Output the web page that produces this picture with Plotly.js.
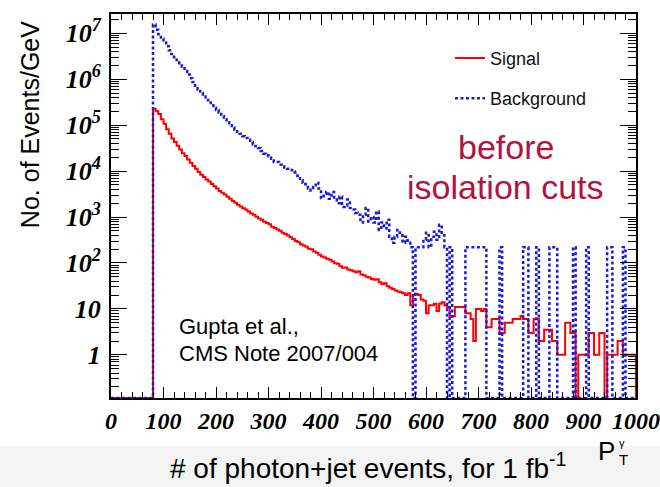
<!DOCTYPE html>
<html>
<head>
<meta charset="utf-8">
<script src="https://cdn.plot.ly/plotly-3.0.1.min.js"></script>
<style>
  html, body { margin: 0; padding: 0; background: #ffffff; }
  #chart { width: 660px; height: 487px; }
</style>
</head>
<body>
<div id="chart"></div>
<script>
// ---- Data: histogram contents (Events/GeV), 5 GeV bins starting at 80 GeV ----
const binStart = 80;   // GeV, low edge of first bin
const binWidth = 5;    // GeV

const signal = [
  229000, 200000, 174000, 135000, 107000, 81000, 65000, 51000, 43000, 35500,
  29500, 24500, 21400, 17800, 15100, 12900, 11200, 9550, 8300, 7400,
  6600, 5900, 5250, 4700, 4170, 3700, 3390, 3090, 2750, 2510,
  2240, 2040, 1860, 1700, 1550, 1450, 1320, 1200, 1120, 1020,
  930, 870, 794, 741, 692, 617, 575, 537, 501, 457,
  427, 398, 363, 331, 302, 282, 257, 240, 224, 204,
  200, 178, 166, 151, 138, 132, 123, 118, 107, 98,
  96, 85, 79, 80, 72, 69, 66, 63, 66, 56,
  54, 50, 48, 45, 43, 44, 38, 35, 36, 31,
  29, 27, 25, 24, 23, 22,
  20, 22, 12, 20, 21, 20, 16, 15, 8, 12,
  12, 13, 9, 13, 14, 12, 11, 7, 7, 11,
  11, 11, 11, 8, 8, 6, 2, 10, 10, 9,
  10, 4, 4, 6, 6, 6, 3, 3, 5, 5,
  5, 6, 6, 6, 7, 6, 6, 3, 3, 6,
  6, 2, 2, 3.5, 3.5, 3.5, 2, 2, 1, 1,
  1, 5, 5, 3, 3, 0, 1, 1, 1, 1,
  3, 3, 1, 1, 3, 3, 0, 1, 1, 1,
  1, 2, 2, 1, 1, 1, 1, 1
];

const background = [
  1.55e7, 1.2e7, 9.5e6, 7.6e6, 6.3e6, 5.25e6, 4.27e6, 3.55e6, 3.02e6, 2.63e6,
  2.24e6, 1.86e6, 1.51e6, 1.26e6, 1.05e6, 8.7e5, 7.2e5, 6.0e5, 5.0e5, 4.2e5,
  3.55e5, 3.1e5, 2.7e5, 2.4e5, 2.14e5, 1.86e5, 1.58e5, 1.35e5, 1.15e5, 1.0e5,
  8.9e4, 7.9e4, 7.2e4, 6.5e4, 5.75e4, 5.25e4, 4.8e4, 4.3e4, 3.8e4, 3.5e4,
  3.2e4, 2.75e4, 2.4e4, 2.2e4, 2.1e4, 1.86e4, 1.58e4, 1.58e4, 1.38e4, 1.26e4,
  1.2e4, 1.12e4, 1.05e4, 9800, 9300, 7900, 6300, 5600, 5200, 4200,
  3800, 4500, 5600, 4200, 2600, 3200, 3500, 2500, 3500, 2400,
  2000, 2800, 1660, 1780, 2400, 1580, 1450, 1230, 1120, 760,
  1120, 1580, 800, 1000, 760, 1320, 525, 760, 560, 870,
  370, 275, 370, 525, 457, 275, 370, 275, 220, 0,
  220, 220, 220, 320, 457, 220, 370, 480, 320, 680,
  400, 220, 0, 220, 0, 0, 0, 0, 0, 220,
  220, 220, 220, 220, 220, 220, 220, 0, 0, 0,
  0, 0, 220, 0, 0, 0, 0, 0, 0, 0,
  0, 220, 220, 0, 0, 0, 220, 0, 0, 0,
  0, 220, 220, 220, 0, 0, 0, 0, 0, 0,
  220, 0, 0, 0, 0, 220, 0, 0, 0, 0,
  0, 0, 0, 220, 220, 0, 0, 0, 0, 220,
  0, 0, 0, 0
];

const yTickVals = [1, 10, 100, 1e3, 1e4, 1e5, 1e6, 1e7];
const yTickText = ['1', '10', '10<sup>2</sup>', '10<sup>3</sup>', '10<sup>4</sup>',
                   '10<sup>5</sup>', '10<sup>6</sup>', '10<sup>7</sup>'];
const xTickVals = [0, 100, 200, 300, 400, 500, 600, 700, 800, 900, 1000];

// ---- Build step-histogram outlines ----
const Y_LOG_RANGE = [-0.94, 7.42];
const FLOOR = Math.pow(10, Y_LOG_RANGE[0]); // empty bins are drawn at the frame bottom
const X_MIN = 0, X_MAX = 1000;

function histOutline(vals) {
  const x = [X_MIN], y = [FLOOR];
  vals.forEach((v, i) => {
    x.push(binStart + i * binWidth);
    y.push(v > 0 ? v : FLOOR);
  });
  x.push(X_MAX); y.push(FLOOR);
  return { x, y };
}

const sig = histOutline(signal);
const bkg = histOutline(background);

const traces = [
  {
    x: sig.x, y: sig.y, type: 'scatter', mode: 'lines', name: 'Signal',
    legendgroup: 'sig',
    line: { shape: 'hv', color: '#ff0000', width: 2 }
  },
  {
    x: bkg.x, y: bkg.y, type: 'scatter', mode: 'lines', name: 'Background',
    legendgroup: 'bkg',
    line: { shape: 'hv', color: '#1a1ad6', width: 2.5, dash: '3px,2.5px' }
  }
];

const serifBI = 'Liberation Serif, Times New Roman, serif';
const xTickFont = { family: serifBI, size: 24, color: '#000', weight: 'bold', style: 'italic' };
const yTickFont = { family: serifBI, size: 26, color: '#000', weight: 'bold', style: 'italic' };
const sans = 'Liberation Sans, Arial, sans-serif';

function note(text, x, y, size, color, extra) {
  return Object.assign({
    text: text, xref: 'paper', yref: 'paper', x: x, y: y,
    xanchor: 'center', yanchor: 'middle', showarrow: false,
    font: { family: sans, size: size, color: color }
  }, extra || {});
}

const layout = {
  width: 660, height: 487,
  margin: { l: 111, r: 24, t: 14, b: 89 },
  paper_bgcolor: '#ffffff', plot_bgcolor: '#ffffff',
  showlegend: true,
  legend: {
    x: 0.6457, y: 0.933, xanchor: 'left', yanchor: 'top',
    bgcolor: 'rgba(0,0,0,0)', font: { family: sans, size: 18, color: '#111' },
    tracegroupgap: 14
  },
  xaxis: {
    range: [X_MIN, X_MAX], tickvals: xTickVals, ticks: 'inside', ticklen: 11,
    tickwidth: 1, tickcolor: '#000',
    minor: { dtick: 20, ticks: 'inside', ticklen: 6, tickcolor: '#000', showgrid: false },
    showline: true, linewidth: 2, linecolor: '#000', mirror: 'ticks',
    showgrid: false, zeroline: false, tickfont: xTickFont, ticklabelstandoff: 0
  },
  yaxis: {
    type: 'log', range: Y_LOG_RANGE, tickvals: yTickVals, ticktext: yTickText,
    ticks: 'inside', ticklen: 16, tickwidth: 1, tickcolor: '#000',
    minor: { dtick: 'D1', ticks: 'inside', ticklen: 8, tickcolor: '#000', showgrid: false },
    showline: true, linewidth: 2, linecolor: '#000', mirror: 'ticks',
    showgrid: false, zeroline: false, tickfont: yTickFont, ticklabelstandoff: 3
  },
  shapes: [
    { type: 'rect', xref: 'paper', yref: 'paper', x0: -0.3, x1: 1.1, y0: -0.232, y1: -0.125,
      fillcolor: '#f3f3f3', line: { width: 0 }, layer: 'below' }
  ],
  annotations: [
    note('No. of Events/GeV', -0.154, 0.711, 25, '#000', { textangle: -90 }),
    note('before', 0.752, 0.654, 34, '#b5123e'),
    note('isolation cuts', 0.752, 0.55, 34, '#b5123e'),
    note('Gupta et al.,', 0.126, 0.185, 22, '#000', { xanchor: 'left' }),
    note('CMS Note 2007/004', 0.126, 0.115, 22, '#000', { xanchor: 'left' }),
    note('P', 0.962, -0.137, 26, '#000', { xanchor: 'right', borderpad: 0 }),
    note('γ', 0.965, -0.116, 11, '#000', { xanchor: 'left', borderpad: 0 }),
    note('T', 0.965, -0.16, 15, '#000', { xanchor: 'left', borderpad: 0 }),
    note('# of photon+jet events, for 1 fb<sup>-1</sup>', 0.49, -0.178, 28, '#000')
  ]
};

Plotly.newPlot('chart', traces, layout, { displayModeBar: false, staticPlot: true });
</script>
</body>
</html>
